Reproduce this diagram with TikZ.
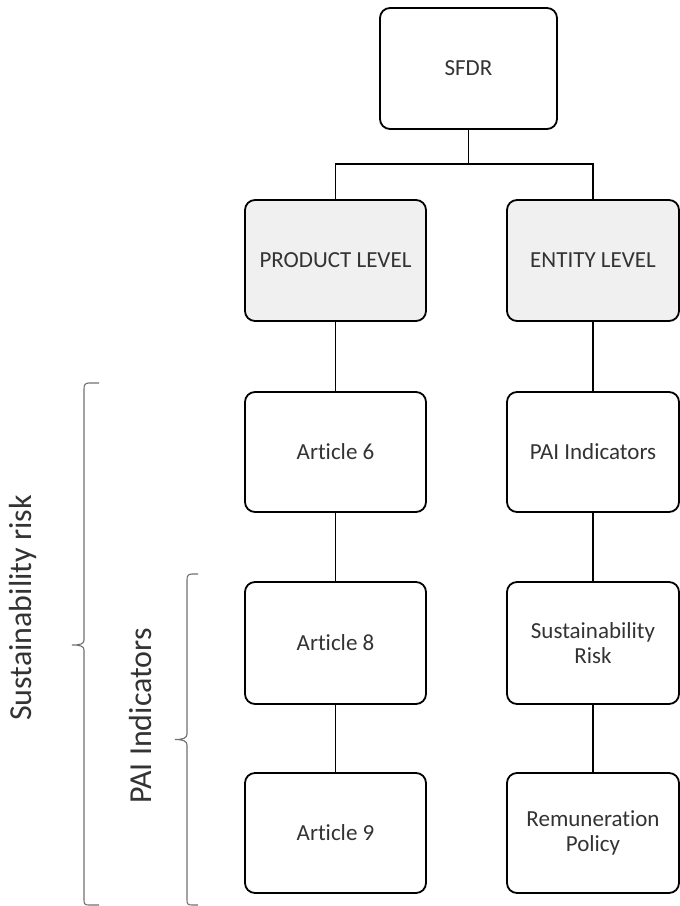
\documentclass[tikz,border=0pt]{standalone}
\usepackage{fontspec}
\setmainfont{Carlito}[Ligatures=NoCommon]
\definecolor{txt}{HTML}{333333}
\definecolor{lvlfill}{HTML}{F0F0F0}
\definecolor{bracegray}{HTML}{707070}
\begin{document}
\begin{tikzpicture}[x=1pt,y=-1pt,
  box/.style={draw=black, line width=1.8pt, rounded corners=10pt, minimum height=120pt,
    align=center, text=txt, inner sep=0pt, font=\fontsize{23}{25}\selectfont},
  lvl/.style={box, fill=lvlfill},
  conn/.style={draw=black, line width=1.8pt},
  bracestyle/.style={draw=bracegray, line width=1.1pt},
  sidelabel/.style={rotate=90, text=txt, font=\fontsize{32}{38}\selectfont}]
\useasboundingbox (0,0) rectangle (680,906);
\node[box, minimum width=177pt, minimum height=121pt] (sfdr) at (468.5,68.5) {SFDR};
\node[lvl, minimum width=181pt, minimum height=121pt] (prod) at (335.5,260.5) {PRODUCT LEVEL};
\node[lvl, minimum width=172pt, minimum height=121pt] (ent) at (593,260.5) {ENTITY LEVEL};
\node[box, minimum width=181pt] (a6) at (335.5,452) {Article 6};
\node[box, minimum width=172pt] (pai) at (593,452) {PAI Indicators};
\node[box, minimum width=181pt, minimum height=122pt] (a8) at (335.5,643) {Article 8};
\node[box, minimum width=172pt, minimum height=122pt] (sr) at (593,643) {Sustainability\\Risk};
\node[box, minimum width=181pt] (a9) at (335.5,833) {Article 9};
\node[box, minimum width=172pt] (rp) at (593,833) {Remuneration\\Policy};
\coordinate (bar) at (0,164);
\draw[conn] (sfdr.south) -- (sfdr.south |- bar);
\draw[conn] (prod.north) |- (ent.north |- bar) -- (ent.north);
\draw[conn] (prod.south) -- (a6.north);
\draw[conn] (a6.south) -- (a8.north);
\draw[conn] (a8.south) -- (a9.north);
\draw[conn] (ent.south) -- (pai.north);
\draw[conn] (pai.south) -- (sr.north);
\draw[conn] (sr.south) -- (rp.north);
% big brace
\draw[bracestyle] (99,383) -- (89,383) .. controls (85,383) and (84,385) .. (84,389)
  -- (84,640) .. controls (84,644) and (80,645) .. (72,645)
  .. controls (80,645) and (84,646) .. (84,650)
  -- (84,900) .. controls (84,904) and (85,905) .. (89,905) -- (99,905);
% small brace
\draw[bracestyle] (198,574) -- (192,574) .. controls (188,574) and (187,576) .. (187,580)
  -- (187,734) .. controls (187,738) and (183,739.5) .. (175,739.5)
  .. controls (183,739.5) and (187,741) .. (187,745)
  -- (187,900) .. controls (187,904) and (188,905) .. (192,905) -- (198,905);
\node[sidelabel] (srlab) at (23,608) {Sustainability risk};
\node[sidelabel] (pailab) at (141,716) {PAI Indicators};
\end{tikzpicture}
\end{document}
